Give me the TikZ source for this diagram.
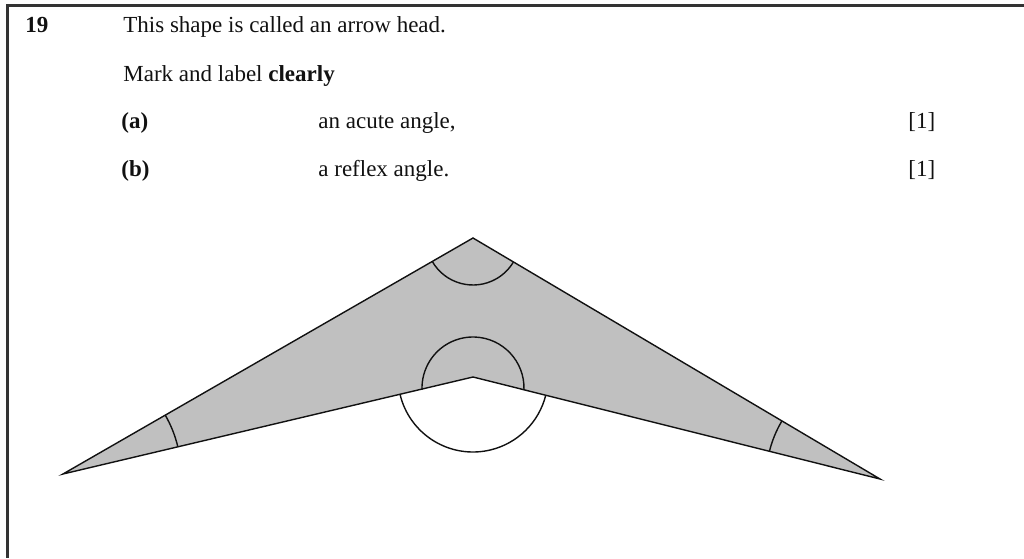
\documentclass[tikz,border=0pt]{standalone}
\usepackage{fontspec}
\setmainfont{Liberation Serif}
\usetikzlibrary{calc}
\definecolor{ink}{HTML}{111111}
\definecolor{shade}{HTML}{C0C0C0}
\definecolor{rule}{HTML}{333333}

\begin{document}
\begin{tikzpicture}[x=0.5pt, y=0.5pt, font=\fontsize{11.5}{14}\selectfont, text=ink,
  txt/.style={anchor=base west, inner sep=0pt},
  frameline/.style={draw=rule, line width=1.2pt},
  arrowshape/.style={draw=ink, fill=shade, line width=0.7pt, line join=miter},
  anglearc/.style={draw=ink, line width=0.7pt}]
  \useasboundingbox (0,0) rectangle (1024,558);
  \draw[frameline] (1024,552.5) -- (7.5,552.5) -- (7.5,0);

  % question text
  \node[txt, font=\fontsize{11.5}{14}\selectfont\bfseries] (num) at (25,525) {19};
  \node[txt] (intro) at (123,525) {This shape is called an arrow head.};
  \node[txt] (instr) at (123,476) {Mark and label \textbf{clearly}};
  \node[txt, font=\fontsize{11.5}{14}\selectfont\bfseries] (parta) at (121,429) {(a)};
  \node[txt] (texta) at (318,429) {an acute angle,};
  \node[txt] (marka) at (908,429) {[1]};
  \node[txt, font=\fontsize{11.5}{14}\selectfont\bfseries] (partb) at (121,381) {(b)};
  \node[txt] (textb) at (318,381) {a reflex angle.};
  \node[txt] (markb) at (908,381) {[1]};

  % the arrow head
  \coordinate (top) at (473,320);
  \coordinate (notch) at (473,181);
  \coordinate (ltip) at (63,84);
  \coordinate (rtip) at (880,79);
  \path[arrowshape] (ltip) -- (top) -- (rtip) -- (notch) -- cycle;

  % angle marks
  \draw[anglearc] ($(top)+(209.9:47)$) arc[start angle=209.9, end angle=329.4, radius=47];
  \draw[anglearc] ($(ltip)+(13.3:118)$) arc[start angle=13.3, end angle=29.9, radius=118];
  \draw[anglearc] ($(rtip)+(149.4:114)$) arc[start angle=149.4, end angle=165.9, radius=114];
  \draw[anglearc] ($(notch)+(0,-11)+(-2:51)$) arc[start angle=-2, end angle=182, radius=51];
  \draw[anglearc] ($(notch)+(193.3:75)$) arc[start angle=193.3, end angle=345.9, radius=75];
\end{tikzpicture}
\end{document}
